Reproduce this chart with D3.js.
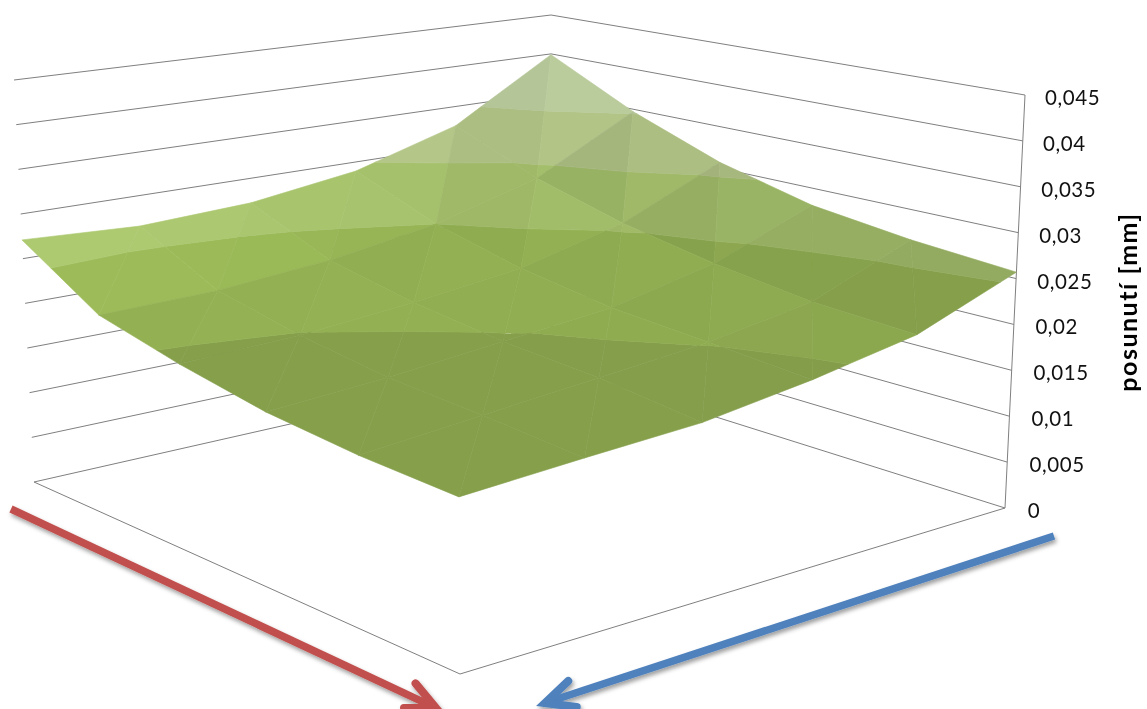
<!DOCTYPE html>
<html><head><meta charset="utf-8">
<script src="https://cdn.jsdelivr.net/npm/d3@7"></script>
<style>html,body{margin:0;background:#fff;overflow:hidden}svg{display:block}</style></head><body>
<svg id="c" width="1147" height="709"></svg>
<script>
// ---- data ----
const zTicks=[0,0.005,0.01,0.015,0.02,0.025,0.03,0.035,0.04,0.045];
const tickLabels=["0","0,005","0,01","0,015","0,02","0,025","0,03","0,035","0,04","0,045"];
const axisTitle="posunutí [mm]";
const row0=[.0399,.0347,.0307,.0280,.0266,.0257];
const row1=[.0326,.0284,.0255,.0235,.0220,.0214];
const row2=[.0289,.0250,.0225,.0209,.0201,.0193];
const row3=[.0271,.0230,.0210,.0197,.0190,.0177];
const row4=[.0265,.0219,.0199,.0185,.0179,.0171];
const row5=[.0271,.0216,.0194,.0177,.0168,.0164];
const surface=[row0,row1,row2,row3,row4,row5];
const bandLevels=[.02,.025,.0296,.0345];
// ---- styling ----
const bandColors=["#859f4b","#93b053","#a2bd6a","#b0c285","#b8c99a"];
const bandContrast=[.25,1,1,1,1];
const shadeA=[[.98,.94,.92,.92,.905],[1.02,.975,.97,.96,.95],[1.04,.99,.99,.98,.98],[1.06,1,1,.99,1],[1.07,1,1,1,1]];
const shadeB=[[1.01,.98,.95,.92,.905],[.98,1,.985,.97,.955],[1.03,1,.99,.98,.98],[1.05,1.01,1,.99,1],[1.07,1.01,1,1,1]];
// ---- projection (perspective box: back, left, front, right corners) ----
const floorQ=[[551,365],[34,482],[460,674],[1005,508]];
const topQ=[[551,15],[14,80],[457,188],[1025,95]];
function homog(q){const [p0,p1,p2,p3]=q;
 const dx1=p1[0]-p2[0],dx2=p3[0]-p2[0],sx=p0[0]-p1[0]+p2[0]-p3[0];
 const dy1=p1[1]-p2[1],dy2=p3[1]-p2[1],sy=p0[1]-p1[1]+p2[1]-p3[1];
 const den=dx1*dy2-dx2*dy1,g=(sx*dy2-dx2*sy)/den,h=(dx1*sy-sx*dy1)/den;
 const a=p1[0]-p0[0]+g*p1[0],b=p3[0]-p0[0]+h*p3[0],c=p0[0],d=p1[1]-p0[1]+g*p1[1],e=p3[1]-p0[1]+h*p3[1],f=p0[1];
 return (u,v)=>{const w=g*u+h*v+1;return [(a*u+b*v+c)/w,(d*u+e*v+f)/w];};}
const H0=homog(floorQ),H1=homog(topQ);
const zScale=d3.scaleLinear().domain([0,.045]).range([0,1]);
const gridScale=d3.scaleLinear().domain([0,5]).range([0,1]);
const project=(u,v,z)=>{const a=H0(u,v),b=H1(u,v),t=zScale(z);return [a[0]+(b[0]-a[0])*t,a[1]+(b[1]-a[1])*t];};

const svg=d3.select("#c");
const defs=svg.append("defs");
const fl=defs.append("filter").attr("id","sh").attr("x","-10%").attr("y","-10%").attr("width","120%").attr("height","130%");
fl.append("feDropShadow").attr("dx",1.5).attr("dy",3).attr("stdDeviation",2).attr("flood-color","#000").attr("flood-opacity",.38);
const root=svg.append("g").style("filter","blur(0.45px)");
const line=d3.line();

// gridlines on the walls
const walls=root.append("g").attr("fill","none").attr("stroke","#7f7f7f").attr("stroke-width",1);
zTicks.forEach(z=>{
  walls.append("path").attr("d",line([project(1,0,z),project(0,0,z),project(0,1,z)]));
});
walls.append("path").attr("d",line([project(0,1,0),project(0,1,.045)]));
walls.append("path").attr("d",line([project(1,0,0),project(1,1,0),project(0,1,0)]));

// surface: two triangles a cell, split along value bands
function clip(poly,level,keepAbove){
  const out=[];
  for(let k=0;k<poly.length;k++){
    const p=poly[k],q=poly[(k+1)%poly.length];
    const pin=keepAbove?p[2]>=level:p[2]<=level, qin=keepAbove?q[2]>=level:q[2]<=level;
    if(pin)out.push(p);
    if(pin!==qin){const t=(level-p[2])/(q[2]-p[2]);out.push([p[0]+(q[0]-p[0])*t,p[1]+(q[1]-p[1])*t,level]);}
  }
  return out;
}
const vtx=(i,j)=>[gridScale(i),gridScale(j),surface[i][j]];
const surf=root.append("g");
const edges=[-1,...bandLevels,1];
function facet(tri,shade){
  bandColors.forEach((col,b)=>{
    let poly=clip(tri,edges[b],true); if(poly.length) poly=clip(poly,edges[b+1],false);
    if(poly.length<3)return;
    const s=1+(shade-1)*bandContrast[b];
    const c=d3.rgb(col); const fill=d3.rgb(Math.min(255,c.r*s),Math.min(255,c.g*s),Math.min(255,c.b*s)).formatHex();
    surf.append("path").attr("d",line(poly.map(p=>project(p[0],p[1],p[2])))+"Z").attr("fill",fill).attr("stroke",fill).attr("stroke-width",.6).attr("stroke-linejoin","round");
  });
}
for(let i=0;i<5;i++)for(let j=0;j<5;j++){
  facet([vtx(i,j),vtx(i+1,j),vtx(i+1,j+1)],shadeA[i][j]);
  facet([vtx(i,j),vtx(i,j+1),vtx(i+1,j+1)],shadeB[i][j]);
}

// z axis labels
const labels=root.append("g").attr("font-family","Lato, 'Open Sans', sans-serif").attr("font-size",20.5).attr("letter-spacing",.6).attr("fill","#111");
zTicks.forEach((z,k)=>{const p=project(0,1,z);
  labels.append("text").attr("x",p[0]+20+(.045-z)*60).attr("y",p[1]+10).text(tickLabels[k]);});
root.append("text").attr("transform","translate(1137,302) rotate(-90)").attr("text-anchor","middle")
 .attr("font-family","Lato, sans-serif").attr("font-weight",700).attr("font-size",25).attr("letter-spacing",1.5).attr("fill","#000").text(axisTitle);

// direction arrows beside the floor edges
function arrow(from,to,col){
  const [x0,y0]=from,[x1,y1]=to,a=Math.atan2(y1-y0,x1-x0),L=32,w=.44;
  const arm1=[x1-L*Math.cos(a-w),y1-L*Math.sin(a-w)],arm2=[x1-L*Math.cos(a+w),y1-L*Math.sin(a+w)];
  const g=root.append("g").attr("fill","none").attr("stroke",col).attr("filter","url(#sh)");
  g.append("path").attr("d",line([from,[x1-8*Math.cos(a),y1-8*Math.sin(a)]])).attr("stroke-width",7.5);
  g.append("path").attr("d",line([arm1,to,arm2])).attr("stroke-width",8).attr("stroke-linejoin","miter").attr("stroke-linecap","round");
}
const shift=(p,dx,dy)=>[p[0]+dx,p[1]+dy];
arrow(shift(project(1,0,0),-23,27),shift(project(1,1,0),-24,34),"#c0504d");
arrow(shift(project(0,1,0),49,28),shift(project(1,1,0),85,29),"#4f81bd");
</script></body></html>
